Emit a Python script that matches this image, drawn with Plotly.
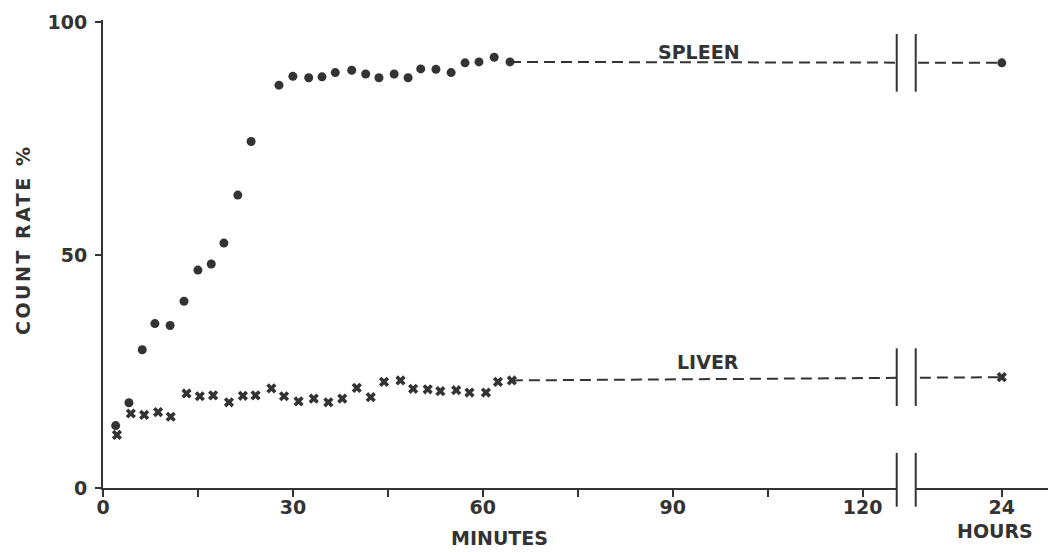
import plotly.graph_objects as go

# ---- data ----
spleen_t = [2.0, 4.1, 6.2, 8.2, 10.6, 12.8, 15.0, 17.1, 19.1, 21.3, 23.4, 27.8, 30.0, 32.5, 34.6,
            36.7, 39.3, 41.5, 43.6, 46.0, 48.2, 50.2, 52.6, 55.0, 57.2, 59.4, 61.8, 64.3]
spleen_v = [13.4, 18.3, 29.7, 35.3, 34.9, 40.1, 46.8, 48.1, 52.6, 62.9, 74.4, 86.5, 88.4, 88.1, 88.3,
            89.2, 89.7, 88.9, 88.1, 88.9, 88.1, 90.0, 89.9, 89.2, 91.3, 91.5, 92.5, 91.5]
liver_t = [2.2, 4.4, 6.5, 8.7, 10.7, 13.2, 15.3, 17.4, 19.9, 22.1, 24.1, 26.6, 28.6, 30.9, 33.3,
           35.6, 37.8, 40.1, 42.3, 44.4, 47.0, 49.0, 51.3, 53.3, 55.8, 57.9, 60.5, 62.4, 64.6]
liver_v = [11.4, 16.0, 15.7, 16.3, 15.3, 20.3, 19.7, 19.9, 18.4, 19.8, 19.9, 21.4, 19.7, 18.6, 19.2,
           18.4, 19.2, 21.5, 19.5, 22.8, 23.1, 21.3, 21.2, 20.8, 21.0, 20.5, 20.5, 22.8, 23.1]
spleen_24h = 91.3
liver_24h = 23.8

# axis layout (24 h point drawn after a broken axis)
hours_pos = 142.0
break_x = [125.4, 128.4]
tick_vals = [0, 15, 30, 45, 60, 75, 90, 105, 120, hours_pos]
tick_text = ["0", "", "30", "", "60", "", "90", "", "120", "24"]

INK = "#333333"
FAM = "'DejaVu Sans', sans-serif"
FONT = dict(family=FAM, size=19, color=INK, weight="bold")
TICKFONT = dict(family=FAM, size=19, color=INK, weight="bold")

fig = go.Figure()

# dashed connectors to the 24 h values
for t_last, v_last, v24 in ((spleen_t[-1], spleen_v[-1], spleen_24h),
                            (liver_t[-1], liver_v[-1], liver_24h)):
    fig.add_trace(go.Scatter(x=[t_last, hours_pos], y=[v_last, v24], mode="lines",
                             line=dict(color=INK, width=2, dash="11px,6px"),
                             showlegend=False, hoverinfo="skip"))

fig.add_trace(go.Scatter(x=spleen_t + [hours_pos], y=spleen_v + [spleen_24h], mode="markers",
                         marker=dict(symbol="circle", size=9, color=INK), name="SPLEEN",
                         showlegend=False, cliponaxis=False))
fig.add_trace(go.Scatter(x=liver_t + [hours_pos], y=liver_v + [liver_24h], mode="markers",
                         marker=dict(symbol="x", size=9, color=INK, line=dict(width=0)),
                         name="LIVER", showlegend=False, cliponaxis=False))

shapes = []
# gap in the lines at the axis break
shapes.append(dict(type="rect", xref="x", yref="paper", x0=break_x[0], x1=break_x[1],
                   y0=-0.03, y1=1.0, fillcolor="white", line=dict(width=0), layer="above"))
# break marks on the two series
for yc in (spleen_24h, liver_24h):
    for bx in break_x:
        shapes.append(dict(type="line", xref="x", yref="y", x0=bx, x1=bx, y0=yc - 6.2, y1=yc + 6.2,
                           line=dict(color=INK, width=2), layer="above"))
# break marks on the x axis
for bx in break_x:
    shapes.append(dict(type="line", xref="x", yref="paper", x0=bx, x1=bx, y0=-0.04, y1=0.075,
                       line=dict(color=INK, width=2), layer="above"))

annotations = [
    dict(text="SPLEEN", x=94.2, y=93.7, xref="x", yref="y", showarrow=False, font=FONT,
         xanchor="center", yanchor="middle"),
    dict(text="LIVER", x=95.6, y=27.0, xref="x", yref="y", showarrow=False, font=FONT,
         xanchor="center", yanchor="middle"),
    dict(text="MINUTES", x=(499 - 103) / 945, y=-(538 - 488) / 468, xref="paper", yref="paper",
         showarrow=False, font=FONT, xanchor="center", yanchor="middle"),
    dict(text="HOURS", x=(995 - 103) / 945, y=-(531 - 488) / 468, xref="paper", yref="paper",
         showarrow=False, font=FONT, xanchor="center", yanchor="middle"),
    dict(text='<span style="letter-spacing:2.5px">COUNT RATE %</span>',
         x=-(103 - 23) / 945, y=(488 - 240) / 468, xref="paper", yref="paper",
         showarrow=False, font=FONT, textangle=-90, xanchor="center", yanchor="middle"),
]

fig.update_layout(
    width=1048, height=552,
    margin=dict(l=103, r=0, t=20, b=64),
    paper_bgcolor="white", plot_bgcolor="white",
    shapes=shapes, annotations=annotations,
    xaxis=dict(range=[0, 149.3], tickvals=tick_vals, ticktext=tick_text,
               showline=True, linecolor=INK, linewidth=2, ticks="outside", ticklen=7,
               tickwidth=2, tickcolor=INK, showgrid=False, zeroline=False,
               tickfont=TICKFONT, ticklabelstandoff=-6, fixedrange=True),
    yaxis=dict(range=[0, 100.5], tickvals=[0, 50, 100], ticktext=["0", "50", "100"],
               showline=True, linecolor=INK, linewidth=2, ticks="outside", ticklen=6,
               tickwidth=2, tickcolor=INK, showgrid=False, zeroline=False,
               tickfont=TICKFONT, ticklabelstandoff=4, fixedrange=True),
)

fig.write_html("out.html")
